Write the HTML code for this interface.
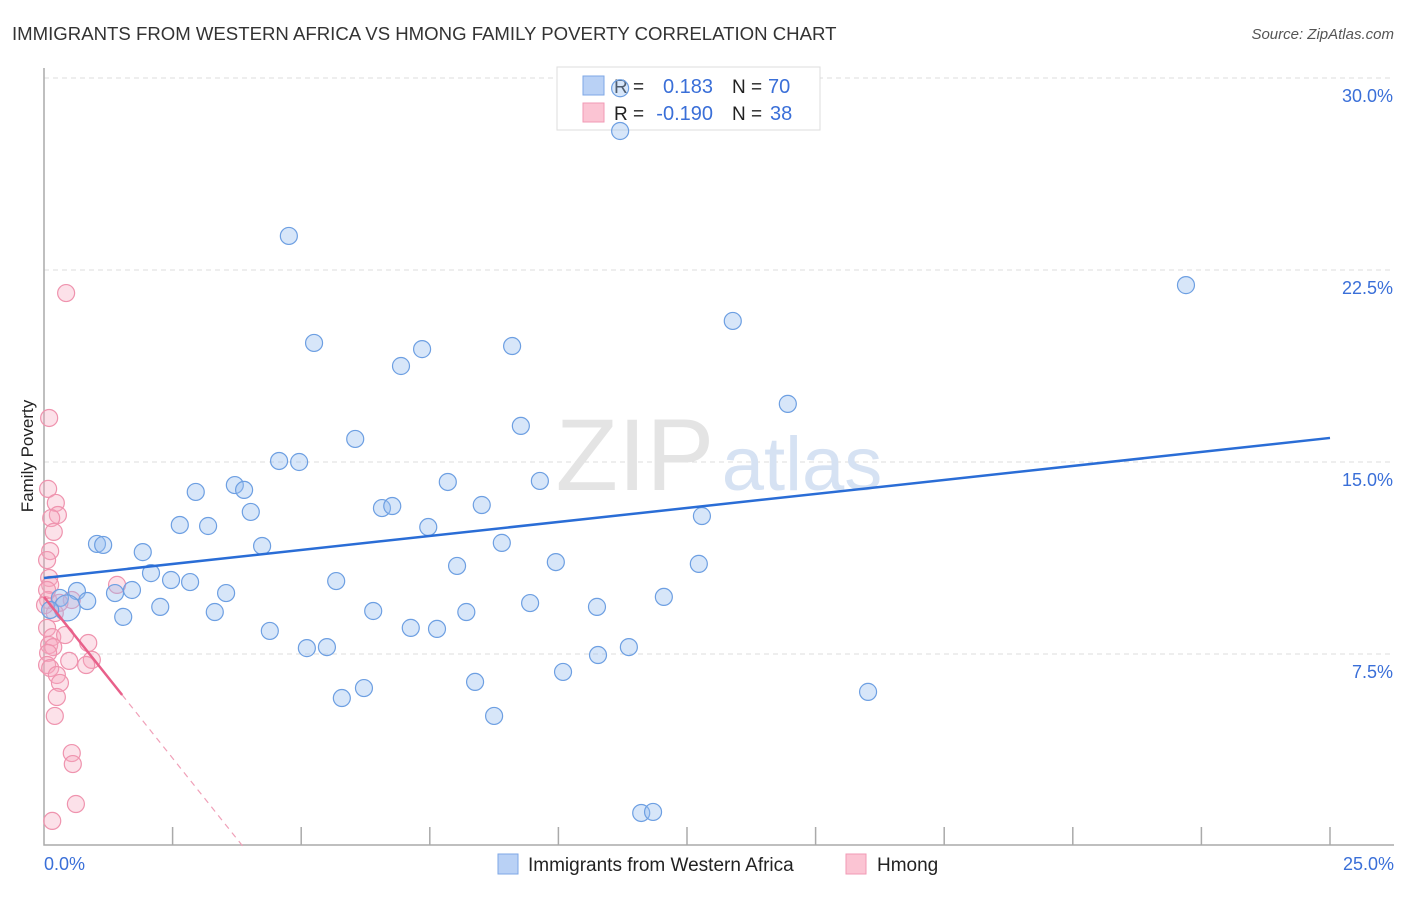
<!DOCTYPE html>
<html><head><meta charset="utf-8"><style>
body{margin:0;background:#fff;font-family:"Liberation Sans",sans-serif;}
svg text{font-family:"Liberation Sans",sans-serif;}
</style></head><body>
<svg id="chart" width="1406" height="892" xmlns="http://www.w3.org/2000/svg">
<text x="12" y="40" font-size="18.6" fill="#333">IMMIGRANTS FROM WESTERN AFRICA VS HMONG FAMILY POVERTY CORRELATION CHART</text>
<text x="1394" y="39" font-size="15" fill="#555" font-style="italic" text-anchor="end">Source: ZipAtlas.com</text>
<g id="grid"></g>
<text x="635" y="490" font-size="102" fill="#e4e4e4" font-family="Liberation Serif" text-anchor="middle">ZIP</text>
<text x="802" y="490" font-size="76" fill="#d6e2f3" text-anchor="middle">atlas</text>
<g>
<rect x="557" y="67" width="263" height="63" fill="#fff" stroke="#ddd"/>
<rect x="583" y="76" width="21" height="19" fill="#b9d1f5" stroke="#7ea7e6"/>
<rect x="583" y="103" width="21" height="19" fill="#fbc4d3" stroke="#f19ab5"/>
<text x="614" y="93" font-size="19" fill="#222">R =</text>
<text x="713" y="93" font-size="20" fill="#3a6fd8" text-anchor="end">0.183</text>
<text x="732" y="93" font-size="19" fill="#222">N =</text>
<text x="768" y="93" font-size="20" fill="#3a6fd8">70</text>
<text x="614" y="120" font-size="19" fill="#222">R =</text>
<text x="713" y="120" font-size="20" fill="#3a6fd8" text-anchor="end">-0.190</text>
<text x="732" y="120" font-size="19" fill="#222">N =</text>
<text x="770" y="120" font-size="20" fill="#3a6fd8">38</text>
</g>
<g id="pts"></g>
<g id="lines"></g>
<text x="33" y="456" font-size="17" fill="#222" text-anchor="middle" transform="rotate(-90 33 456)">Family Poverty</text>
<g>
<rect x="498" y="854" width="20" height="20" fill="#b9d1f5" stroke="#7ea7e6"/>
<text x="528" y="871" font-size="19" fill="#222">Immigrants from Western Africa</text>
<rect x="846" y="854" width="20" height="20" fill="#fbc4d3" stroke="#f19ab5"/>
<text x="877" y="871" font-size="19" fill="#222">Hmong</text>
</g>
</svg>
<script>
const yTicks=[7.5,15,22.5,30];
const yTickLabels=["7.5%","15.0%","22.5%","30.0%"];
const xTickLabels=["0.0%","25.0%"];
const blueX=[11.2,11.2,4.76,22.2,13.39,5.25,9.1,7.35,6.94,14.46,9.27,6.05,4.57,4.96,7.85,9.64,3.71,3.89,2.95,8.51,6.57,6.77,4.02,12.79,2.64,3.19,7.47,1.03,1.15,4.24,8.9,1.92,9.95,8.03,12.73,2.08,2.47,2.84,5.68,0.64,1.71,1.38,3.54,0.31,0.84,0.45,0.12,9.45,12.05,2.26,3.32,6.4,8.21,10.75,1.54,7.13,7.64,4.39,5.11,5.5,11.37,10.77,10.09,6.22,8.38,5.79,16.02,8.75,11.61,11.84];
const blueY=[29.6,27.93,23.83,21.91,20.51,19.65,19.53,19.41,18.75,17.27,16.41,15.9,15.04,15.0,14.22,14.26,14.1,13.91,13.83,13.32,13.2,13.28,13.05,12.89,12.54,12.5,12.46,11.8,11.76,11.72,11.84,11.48,11.09,10.94,11.02,10.66,10.39,10.31,10.35,9.96,10.0,9.88,9.88,9.69,9.57,9.3,9.22,9.49,9.73,9.34,9.14,9.18,9.14,9.34,8.95,8.52,8.48,8.4,7.73,7.77,7.77,7.46,6.8,6.17,6.41,5.78,6.02,5.08,1.29,1.33];
const pinkX=[0.43,0.1,0.08,0.23,0.27,0.14,0.19,0.12,0.06,0.1,0.12,1.42,0.08,0.54,0.21,0.06,0.16,0.41,0.86,0.1,0.18,0.08,0.93,0.49,0.82,0.06,0.12,0.25,0.31,0.25,0.21,0.54,0.56,0.62,0.16,0.02,0.06,0.3];
const pinkY=[21.6,16.72,13.95,13.4,12.93,12.81,12.27,11.52,11.17,10.47,10.2,10.2,9.61,9.61,9.1,8.52,8.16,8.24,7.93,7.85,7.77,7.54,7.27,7.23,7.07,7.07,6.95,6.68,6.37,5.82,5.08,3.63,3.2,1.64,0.98,9.41,10.0,9.5];
const blueTrend=[10.47,15.94]; // y at x=0 and x=25
const pinkTrend=[9.73,-2.52]; // intercept, slope
const pinkSolidEnd=1.52;
const X0=44,X1=1330,Y0=846,PX=192/7.5;
const sx=v=>X0+(v/25)*(X1-X0);
const sy=v=>Y0-v*PX;
const NS="http://www.w3.org/2000/svg";
function mk(tag,attrs,parent){const e=document.createElementNS(NS,tag);for(const k in attrs)e.setAttribute(k,attrs[k]);parent.appendChild(e);return e;}
const grid=document.getElementById('grid');
yTicks.forEach((t,i)=>{
 const l=mk('line',{x1:44,x2:1394,y1:sy(t),y2:sy(t),stroke:'#dcdcdc','stroke-dasharray':'5,4'},grid);
 
 
 const tx=mk('text',{x:1393,y:sy(t)+24,'font-size':18,fill:'#3a6fd8','text-anchor':'end'},grid);
 tx.textContent=yTickLabels[i];
 
 
});
const ax=mk('path',{d:'M44 68 V845 H1394',fill:'none',stroke:'#aaa','stroke-width':1.5},grid);


for(let i=1;i<=10;i++){
 const tk=mk('line',{x1:sx(i*2.5),x2:sx(i*2.5),y1:827,y2:845,stroke:'#aaa','stroke-width':1.5},grid);
 
 
}
[[0,44,'start'],[25,1394,'end']].forEach((a,i)=>{
 const tx=mk('text',{x:a[1],y:870,'font-size':18,fill:'#3a6fd8','text-anchor':a[2]},grid);
 tx.textContent=xTickLabels[i];
 
 
});
const pts=document.getElementById('pts');
pinkX.forEach((x,i)=>{
 const c=mk('circle',{cx:sx(x),cy:sy(pinkY[i]),r:8.5,fill:'rgba(246,170,192,0.35)',stroke:'#ef93ae','stroke-width':1.2},pts);
 
 
});
blueX.forEach((x,i)=>{
 const c=mk('circle',{cx:sx(x),cy:sy(blueY[i]),r:(i===45?13:8.5),fill:'rgba(150,188,238,0.38)',stroke:'#6d9fe2','stroke-width':1.2},pts);
 
 
});
const lines=document.getElementById('lines');
const bl=mk('line',{x1:sx(0),y1:sy(blueTrend[0]),x2:sx(25),y2:sy(blueTrend[1]),stroke:'#2a6dd6','stroke-width':2.5},lines);


const pf=x=>pinkTrend[0]+pinkTrend[1]*x;
const pl=mk('line',{x1:sx(0),y1:sy(pf(0)),x2:sx(pinkSolidEnd),y2:sy(pf(pinkSolidEnd)),stroke:'#e8608a','stroke-width':2.5},lines);


const xz=-pinkTrend[0]/pinkTrend[1];
const pd=mk('line',{x1:sx(pinkSolidEnd),y1:sy(pf(pinkSolidEnd)),x2:sx(xz),y2:sy(0),stroke:'#f0a0b8','stroke-width':1.2,'stroke-dasharray':'6,5'},lines);


</script>
</body></html>
